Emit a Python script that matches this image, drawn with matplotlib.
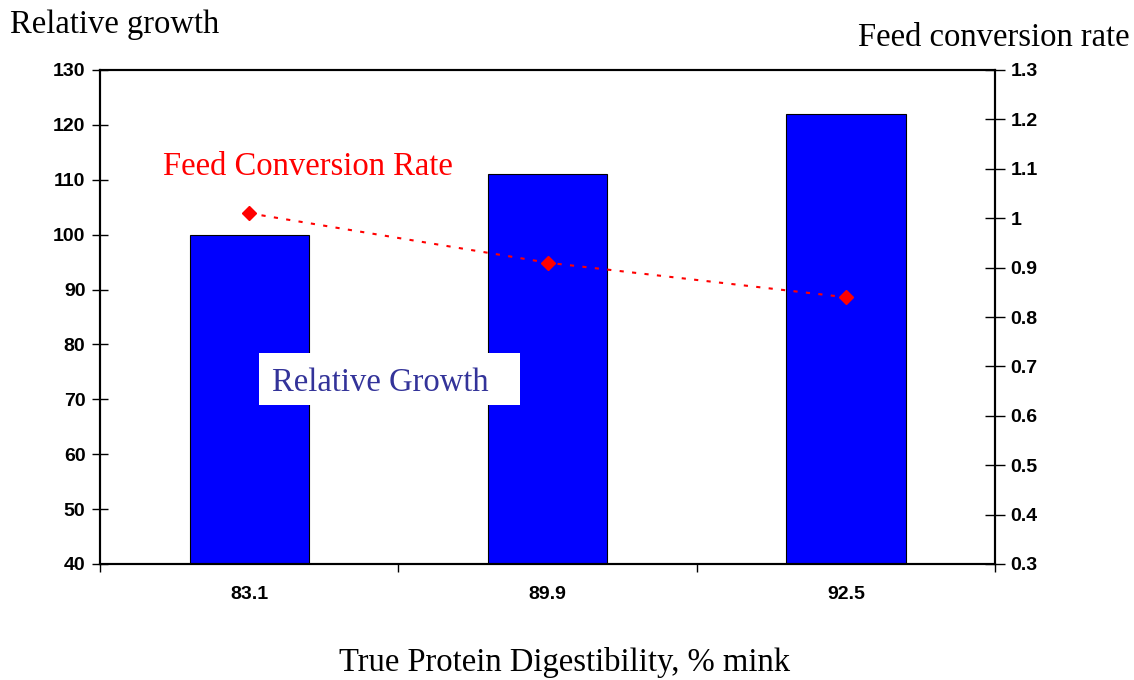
import matplotlib
matplotlib.use("Agg")
import matplotlib.pyplot as plt
from matplotlib.patches import Rectangle
import numpy as np

categories = ["83.1", "89.9", "92.5"]
relative_growth = [100, 111, 122]
feed_conversion = [1.01, 0.91, 0.84]

W, H = 1134, 680
fig = plt.figure(figsize=(W/100, H/100), dpi=100)
ax = fig.add_axes([100/W, 1-564/H, 895/W, 494/H])
x = np.arange(len(categories))
ax.bar(x, relative_growth, width=0.4, color="#0000FF", edgecolor="black", linewidth=0.8, zorder=2)
ax.set_xlim(-0.5, 2.5)
ax.set_ylim(40, 130)
ax.set_yticks(np.arange(40, 131, 10))
ax.set_xticks(x)
ax.set_xticklabels(categories)
ax.set_xticks([-0.5, 0.5, 1.5, 2.5], minor=True)
ax.tick_params(axis="x", which="major", length=0, pad=16)
ax.tick_params(axis="x", which="minor", length=6, width=1, direction="out")
ax.tick_params(axis="y", direction="inout", length=12, width=1, pad=4.5)
for lab in ax.get_xticklabels() + ax.get_yticklabels():
    lab.set_fontfamily("Liberation Sans")
    lab.set_fontweight("bold")
    lab.set_fontsize(14)
for s in ax.spines.values():
    s.set_linewidth(1.5)

ax2 = ax.twinx()
ax2.set_ylim(0.3, 1.3)
rt = np.round(np.arange(0.3, 1.31, 0.1), 1)
ax2.set_yticks(rt)
ax2.set_yticklabels([f"{v:g}" for v in rt])
ax2.plot(x, feed_conversion, color="red", linestyle=(0, (2, 4)), linewidth=1.5,
         marker="D", markersize=7, zorder=3)
ax2.tick_params(axis="y", direction="inout", length=14, width=1, pad=4)
for lab in ax2.get_yticklabels():
    lab.set_fontfamily("Liberation Sans")
    lab.set_fontweight("bold")
    lab.set_fontsize(14)
for s in ax2.spines.values():
    s.set_linewidth(1.5)

serif = "Liberation Serif"
fs = 23.5
fig.text(10/W, 1-25/H, "Relative growth", fontfamily=serif, fontsize=fs, ha="left", va="center")
fig.text(1130/W, 1-38/H, "Feed conversion rate", fontfamily=serif, fontsize=fs, ha="right", va="center")
fig.text(565/W, 1-663/H, "True Protein Digestibility, % mink", fontfamily=serif, fontsize=fs, ha="center", va="center")
fig.text(163/W, 1-167/H, "Feed Conversion Rate", fontfamily=serif, fontsize=fs, color="red", ha="left", va="center")
fig.patches.append(Rectangle((259/W, 1-405/H), 261/W, 52/H, transform=fig.transFigure,
                             facecolor="white", edgecolor="none", zorder=5))
fig.text(272/W, 1-383/H, "Relative Growth", fontfamily=serif, fontsize=fs, color="#333399", ha="left", va="center", zorder=6)

fig.savefig("out.png", dpi=100)
